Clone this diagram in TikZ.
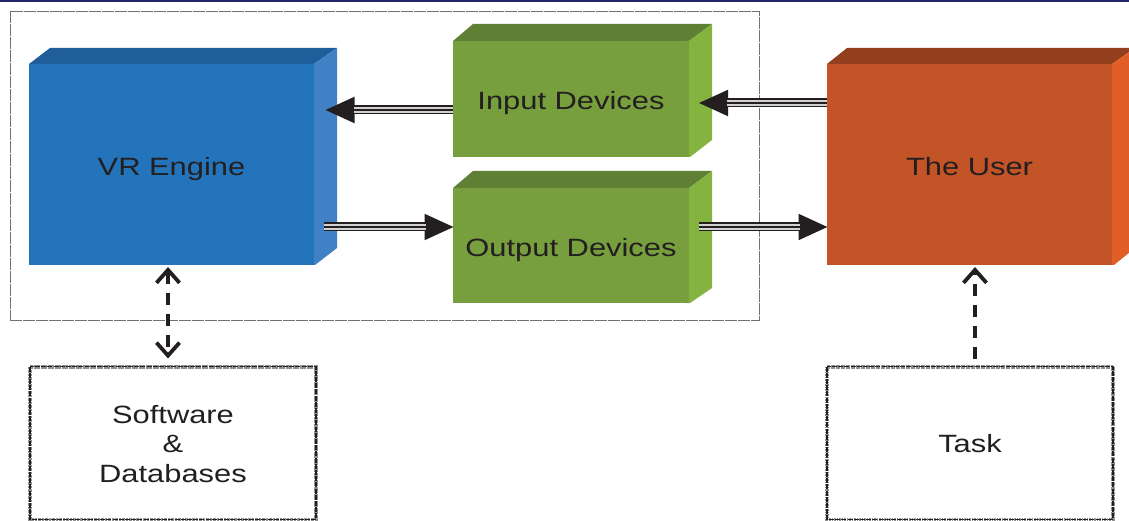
\documentclass[tikz,border=0pt]{standalone}
\usepackage{fontspec}
\setmainfont{Liberation Sans}[FakeStretch=1.235]
\usetikzlibrary{arrows.meta}
\definecolor{inkdark}{HTML}{231F20}
\definecolor{navybar}{HTML}{1F2568}
\definecolor{framegray}{HTML}{707070}
\definecolor{edgegray}{HTML}{909090}
\definecolor{bluefront}{HTML}{2474BB}\definecolor{bluetop}{HTML}{1F5E9A}\definecolor{blueside}{HTML}{4080C4}
\definecolor{greenfront}{HTML}{789F3D}\definecolor{greentop}{HTML}{5F7F35}\definecolor{greenside}{HTML}{84B33F}
\definecolor{orangefront}{HTML}{C25427}\definecolor{orangetop}{HTML}{933F1E}\definecolor{orangeside}{HTML}{E25E28}
\tikzset{
  every node/.style={font=\fontsize{25}{29.5}\selectfont, text=inkdark, inner sep=0pt, align=center},
  frontface/.style={minimum width=#1, outer sep=0pt},
  taskbox/.style={minimum width=286, minimum height=153, outer sep=0pt},
  framebox/.style={draw=framegray, line width=0.9pt, dash pattern=on 12pt off 1pt on 12pt off 1pt, minimum width=749, minimum height=309, outer sep=0pt},
  chevron/.tip={Straight Barb[length=13pt,width=23pt,line width=3.8pt]},
  barb/.style={-chevron},
  dashedlink/.style={inkdark, line width=3.6pt, dash pattern=on 12pt off 9pt},
}
\newcommand{\triplelink}[2]{%
  \draw[inkdark, line width=9pt, -{Triangle[length=30pt,width=24pt]}] #1 -- #2;
  \draw[white!82!black, line width=5.6pt, shorten >=29pt] #1 -- #2;
  \draw[inkdark, line width=2pt, shorten >=29pt] #1 -- #2;
}
\newcommand{\dottedoutline}[2]{%
  \draw[edgegray, line width=4pt, dash pattern=on #2 off 0.9pt] (#1.north west) rectangle (#1.south east);
  \draw[inkdark, line width=1.3pt, dash pattern=on 5pt off 1.2pt] (#1.north west) rectangle (#1.south east);
}
\begin{document}
\begin{tikzpicture}[x=1pt,y=-1pt]
\useasboundingbox (0,0) rectangle (1129,521);
\clip (0,0) rectangle (1129,521);
\fill[white] (0,0) rectangle (1129,521);
\fill[navybar] (0,0) rectangle (1129,2.4);

% outer dashed frame
\node[framebox] (frame) at (384.5,165.5) {};

% VR Engine cuboid
\fill[bluetop] (29,64) -- (50,48) -- (337,48) -- (314,64) -- cycle;
\fill[blueside] (310,64) -- (314,64) -- (337,48) -- (337,248) -- (315,265) -- (310,265) -- cycle;
\node[frontface=285, minimum height=201, fill=bluefront] (vr) at (171.5,164.5) {};
\node at (vr.center) [yshift=-4.5pt] {VR Engine};

% Input Devices cuboid
\fill[greentop] (453,41) -- (473,24) -- (712,24) -- (689,41) -- cycle;
\fill[greenside] (685,41) -- (689,41) -- (712,24) -- (712,140) -- (690,157) -- (685,157) -- cycle;
\node[frontface=236, minimum height=116, fill=greenfront] (inp) at (571,99) {};
\node at (inp.center) [yshift=-4pt] {Input Devices};

% Output Devices cuboid
\fill[greentop] (453,188) -- (473,171) -- (712,171) -- (689,188) -- cycle;
\fill[greenside] (685,188) -- (689,188) -- (712,171) -- (712,288) -- (690,303) -- (685,303) -- cycle;
\node[frontface=236, minimum height=115, fill=greenfront] (out) at (571,245.5) {};
\node at (out.center) [yshift=-4.5pt] {Output Devices};

% The User cuboid
\fill[orangetop] (827,64) -- (847,48) -- (1135,48) -- (1112,64) -- cycle;
\fill[orangeside] (1108,64) -- (1112,64) -- (1135,48) -- (1135,248) -- (1114,265) -- (1108,265) -- cycle;
\node[frontface=285, minimum height=201, fill=orangefront] (user) at (969.5,164.5) {};
\node at (user.center) [yshift=-2.5pt] {The User};

% plain boxes
\node[taskbox] (soft) at (173,443) {};
\dottedoutline{soft}{2.6pt}
\node at ([yshift=-1pt]soft.center) {Software\\\&\\Databases};
\node[taskbox] (task) at (970,443) {};
\dottedoutline{task}{1.6pt}
\node at ([yshift=-1pt]task.center) {Task};

% triple-line arrows
\triplelink{([shift={(0,11)}]inp.west)}{([shift={(10.5,-54.5)}]vr.east)}
\triplelink{([shift={(0,-61.5)}]user.west)}{([shift={(9,4)}]inp.east)}
\triplelink{([shift={(10,62.5)}]vr.east)}{([shift={(1.5,-18.5)}]out.west)}
\triplelink{([shift={(10,-18.5)}]out.east)}{([shift={(1.5,62.5)}]user.west)}

% dashed links
\draw[dashedlink, chevron-chevron] ([shift={(-3.5,2)}]vr.south) -- ([shift={(-5,-8)}]soft.north);
\draw[dashedlink, barb] ([shift={(5,-8)}]task.north) -- ([shift={(5.5,2)}]user.south);
\end{tikzpicture}
\end{document}
